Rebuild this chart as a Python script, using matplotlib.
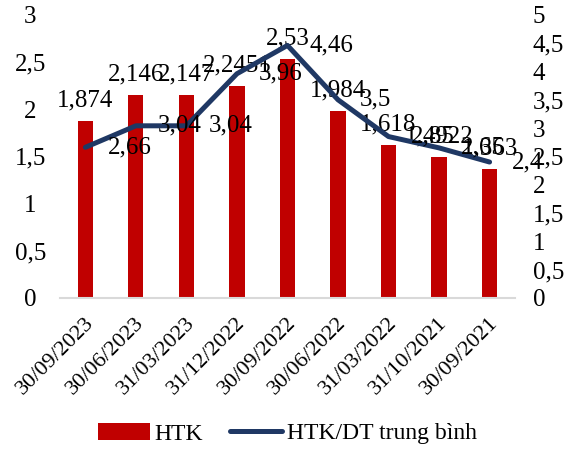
import matplotlib.pyplot as plt
import matplotlib.transforms as mtrans
import numpy as np

plt.rcParams['font.family'] = ['Liberation Serif', 'DejaVu Serif']

# dữ liệu
ngay = ['30/09/2023', '30/06/2023', '31/03/2023', '31/12/2022', '30/09/2022',
        '30/06/2022', '31/03/2022', '31/10/2021', '30/09/2021']
htk = [1.874, 2.146, 2.147, 2.2451, 2.53, 1.984, 1.618, 1.4922, 1.363]
htk_dt = [2.66, 3.04, 3.04, 3.96, 4.46, 3.5, 2.85, 2.65, 2.4]
nhan_htk = ['1,874', '2,146', '2,147', '2,2451', '2,53', '1,984', '1,618', '1,4922', '1,363']
nhan_dt = ['2,66', '3,04', '3,04', '3,96', '4,46', '3,5', '2,85', '2,65', '2,4']

fig = plt.figure(figsize=(5.67, 4.5), dpi=100)
ax = fig.add_axes([0.106, 0.338, 0.802, 0.629])
ax2 = ax.twinx()

x = np.arange(len(ngay))
bars = ax.bar(x, htk, width=0.3, color='#C00000', label='HTK', zorder=2)
line, = ax2.plot(x, htk_dt, color='#1F3864', lw=3.6, solid_capstyle='round',
                 label='HTK/DT trung bình', zorder=3)

ax.set_xlim(-0.5, len(ngay) - 0.5)
ax.set_ylim(0, 3)
ax2.set_ylim(0, 5)
ax.set_yticks(np.arange(0, 3.01, 0.5))
ax.set_yticklabels(['0', '0,5', '1', '1,5', '2', '2,5', '3'])
ax2.set_yticks(np.arange(0, 5.01, 0.5))
ax2.set_yticklabels(['0', '0,5', '1', '1,5', '2', '2,5', '3', '3,5', '4', '4,5', '5'])

ax.set_xticks(x)
ax.set_xticklabels(ngay, rotation=45, ha='right', va='center', rotation_mode='anchor')

for a in (ax, ax2):
    for s in ('top', 'left', 'right', 'bottom'):
        a.spines[s].set_visible(False)
    a.tick_params(length=0, labelsize=18)
ax.spines['bottom'].set_visible(True)
ax.spines['bottom'].set_color('#D9D9D9')
ax.spines['bottom'].set_linewidth(1.5)
ax.tick_params(axis='x', labelsize=16, pad=16)
ax.tick_params(axis='y', pad=21.5)
ax2.tick_params(axis='y', pad=13)
for t in ax.get_yticklabels():
    t.set_horizontalalignment('center')
# dịch nhãn ngày sang phải một chút
dx = mtrans.ScaledTranslation(4 / 72, 0, fig.dpi_scale_trans)
for t in ax.get_xticklabels():
    t.set_transform(t.get_transform() + dx)

# nhãn giá trị
for i, v in enumerate(htk):
    ax.annotate(nhan_htk[i], (x[i], v), xytext=(0, 7), textcoords='offset points',
                ha='center', va='bottom', fontsize=18, zorder=5)
for i, v in enumerate(htk_dt):
    ax2.annotate(nhan_dt[i], (x[i], v), xytext=(16, 0), textcoords='offset points',
                 ha='left', va='center', fontsize=18, zorder=5)

fig.legend([bars, line], ['HTK', 'HTK/DT trung bình'], loc='lower center',
           bbox_to_anchor=(0.507, -0.035), ncol=2, frameon=False, fontsize=17,
           handlelength=2.2, handleheight=0.7, handletextpad=0.2,
           columnspacing=1.15)

fig.savefig('out.png', dpi=100)
